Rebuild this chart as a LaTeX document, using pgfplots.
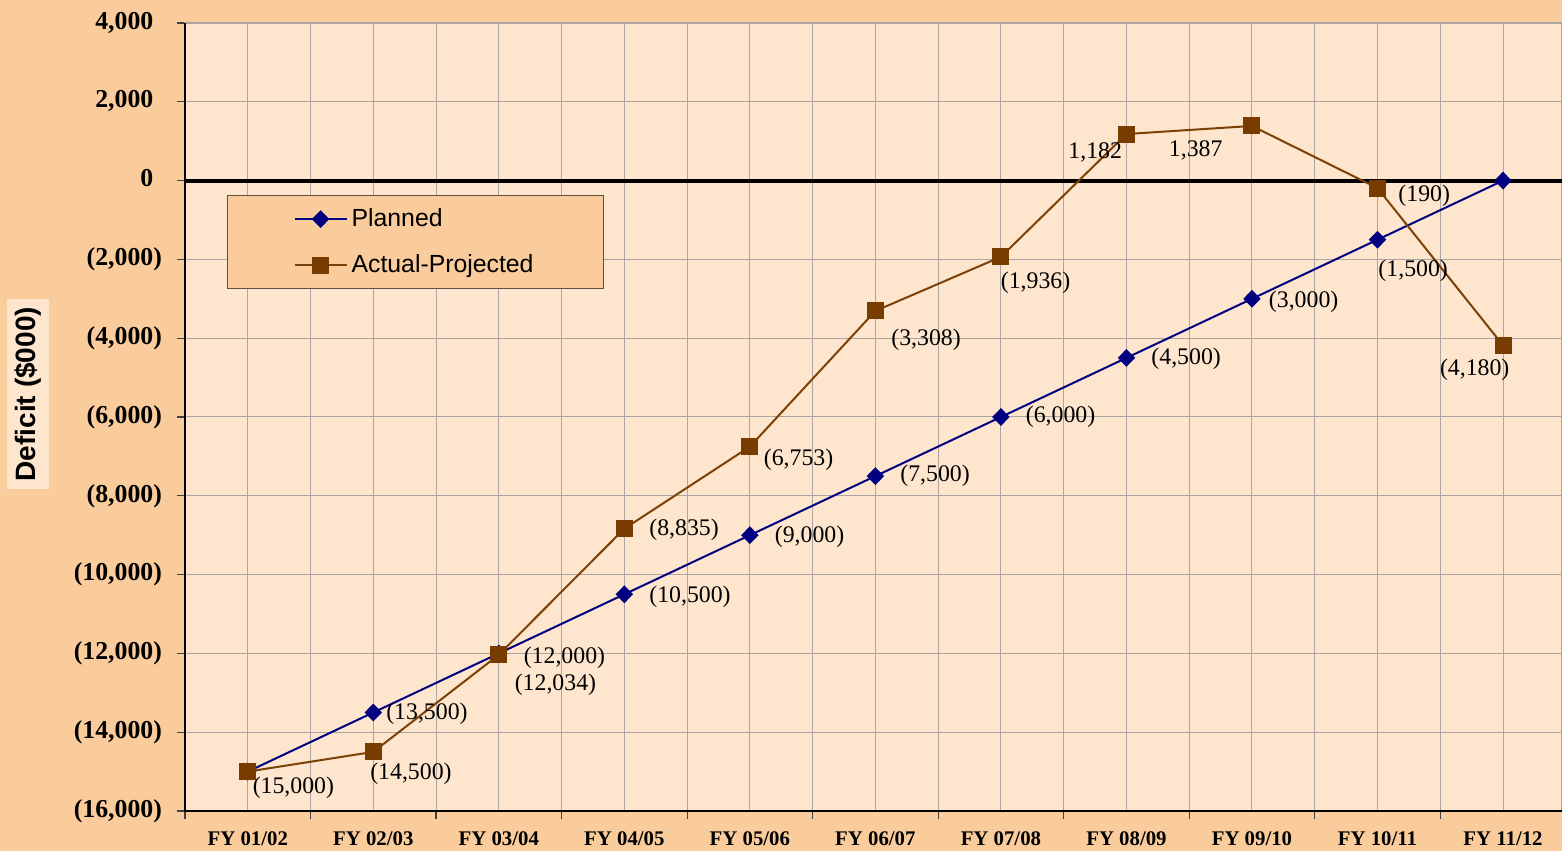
\documentclass[border=0pt]{standalone}
\usepackage{fontspec}
\setmainfont{Liberation Serif}
\setsansfont{Liberation Sans}
\usepackage{pgfplots}
\usepackage{pgfplotstable}
\pgfplotsset{compat=1.18}
\definecolor{outerbg}{RGB}{250,204,156}
\definecolor{innerbg}{RGB}{253,229,206}
\definecolor{gridc}{RGB}{172,164,160}
\definecolor{navy}{RGB}{0,0,128}
\definecolor{brownl}{RGB}{125,64,5}
\definecolor{brownm}{RGB}{120,60,0}

\pgfplotstableread{
x y lab dx dy
0 -15000 (15,000) 2 -8
1 -13500 (13,500) 6 -0.5
2 -12000 (12,000) 12 -2
3 -10500 (10,500) 12 -1
4 -9000 (9,000) 12 -1
5 -7500 (7,500) 12 0
6 -6000 (6,000) 12 0
7 -4500 (4,500) 12 -0.5
8 -3000 (3,000) 8 -1.5
9 -1500 (1,500) 0 -15.5
10 0 {} 0 0
}\planned

\pgfplotstableread{
x y lab dx dy
0 -15000 {} 0 0
1 -14500 (14,500) -2 -11
2 -12034 (12,034) 7.5 -15
3 -8835 (8,835) 12 -0.5
4 -6753 (6,753) 6.5 -6.5
5 -3308 (3,308) 7.5 -14.5
6 -1936 (1,936) -0.5 -13
7 1182 1,182 -29.5 -9
8 1387 1,387 -42 -12
9 -190 (190) 10 -4
10 -4180 (4,180) -32 -12
}\actual

\pgfplotsset{
  labelled/.style={
    nodes near coords={\pgfplotspointmeta},
    point meta=explicit symbolic,
    visualization depends on={\thisrow{dx} \as \labdx},
    visualization depends on={\thisrow{dy} \as \labdy},
    nodes near coords style={anchor=west, xshift=\labdx pt, yshift=\labdy pt, font=\fontsize{11.9}{13}\selectfont, text=black, inner sep=0pt},
  }
}

\begin{document}
\begin{tikzpicture}
\fill[outerbg] (-92.5pt,-20pt) rectangle (688.5pt,405.5pt);
\begin{axis}[
  scale only axis,
  width=688.5pt, height=394pt,
  xmin=-0.5, xmax=10.47,
  ymin=-16000, ymax=4000,
  clip=false,
  axis background/.style={fill=innerbg},
  axis line style={gridc, line width=0.6pt},
  grid=both,
  major grid style={gridc, line width=0.5pt},
  minor grid style={gridc, line width=0.5pt},
  tick align=outside,
  tick pos=left,
  major tick length=4pt,
  minor tick length=4pt,
  tick style={black!75, line width=0.6pt},
  xtick={0,1,...,10},
  xticklabels={FY 01/02,FY 02/03,FY 03/04,FY 04/05,FY 05/06,FY 06/07,FY 07/08,FY 08/09,FY 09/10,FY 10/11,FY 11/12},
  major x tick style={draw=none},
  minor xtick={-0.5,0.5,...,10.5},
  xticklabel style={font=\bfseries\fontsize{10.4}{12}\selectfont, yshift=-3pt},
  ytick={-16000,-14000,...,4000},
  yticklabels={{(16,000)},{(14,000)},{(12,000)},{(10,000)},{(8,000)},{(6,000)},{(4,000)},{(2,000)},{0\phantom{)}},{2,000\phantom{)}},{4,000\phantom{)}}},
  yticklabel style={font=\bfseries\fontsize{12.9}{14}\selectfont, xshift=-4pt},
  ylabel={Deficit (\$000)},
  ylabel style={at={(axis description cs:-0.114,0.529)}, anchor=center, fill=innerbg, inner xsep=4pt, inner ysep=4pt, font=\sffamily\bfseries\fontsize{14}{16}\selectfont},
  legend style={at={(axis description cs:0.0305,0.7817)}, anchor=north west, fill=outerbg, draw={rgb,255:red,95;green,80;blue,70}, line width=0.6pt, font=\sffamily\fontsize{12.4}{14}\selectfont, inner xsep=33pt, inner ysep=4.5pt, row sep=8.5pt},
  legend cell align=left,
  legend image code/.code={\draw[mark repeat=2,mark phase=2,#1] plot coordinates {(0pt,0pt) (13pt,0pt) (26pt,0pt)};},
]
\addplot[black, line width=2pt, forget plot, mark=none] coordinates {(-0.5,0) (10.47,0)};
\addplot[navy, line width=1pt, mark=diamond*, mark size=3.75pt, mark options={fill=navy, solid, xscale=1.3}, labelled] table[x=x, y=y, meta=lab] {\planned};
\addlegendentry{Planned}
\addplot[brownl, line width=1pt, mark=square*, mark size=3.75pt, mark options={fill=brownm, draw=brownm, solid}, labelled] table[x=x, y=y, meta=lab] {\actual};
\addlegendentry{Actual-Projected}
\draw[black, line width=0.9pt] (rel axis cs:0,1) -- (rel axis cs:0,0) -- (rel axis cs:1,0);
\end{axis}
\pgfresetboundingbox
\path (-92.5pt,-20pt) rectangle (688.5pt,405.5pt);
\end{tikzpicture}
\end{document}
